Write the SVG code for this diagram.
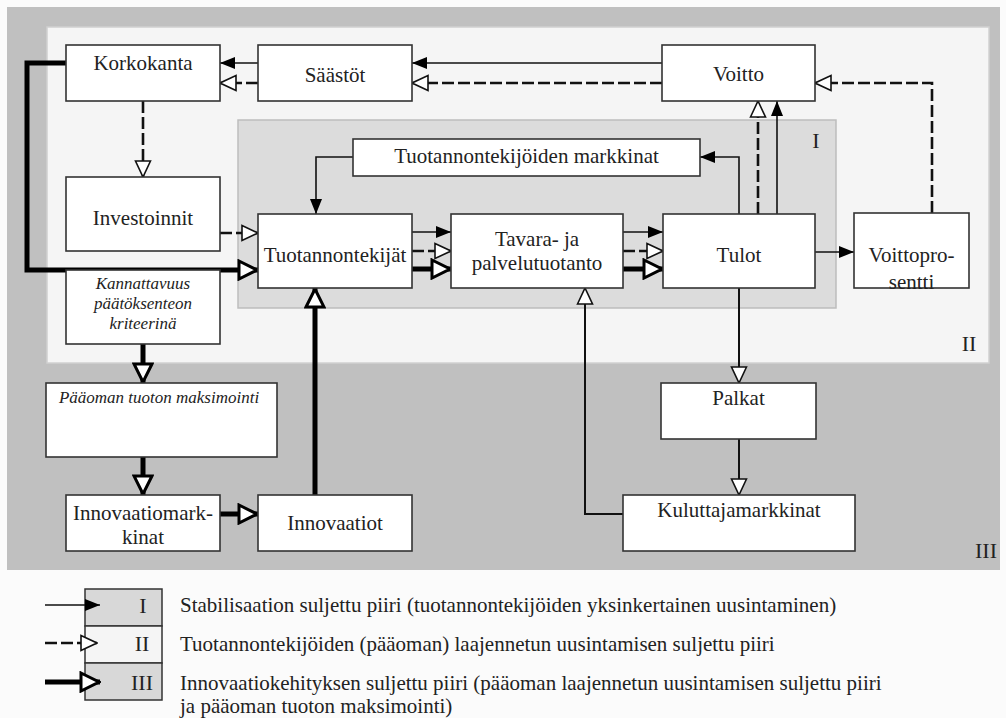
<svg xmlns="http://www.w3.org/2000/svg" width="1006" height="718" viewBox="0 0 1006 718">
<style>
.node rect{fill:#fff;stroke:#333;stroke-width:1.6}
text{font-family:"Liberation Serif","Times New Roman",serif;font-size:21px;fill:#222}
.c text,.node text{text-anchor:middle}
.it{font-style:italic;font-size:17px}
.s1{fill:none;stroke:#111;stroke-width:1.6}
.s2{fill:none;stroke:#111;stroke-width:2.6;stroke-dasharray:12,4}
.s3{fill:none;stroke:#000;stroke-width:5}
.sh{fill:none;stroke:#111;stroke-width:2}
.lbl{font-size:22px;text-anchor:middle}
</style>
<defs>
<marker id="aI" markerUnits="userSpaceOnUse" viewBox="0 0 15 12" refX="15" refY="6" markerWidth="15" markerHeight="12" orient="auto"><path d="M0,0 L15,6 L0,12 z" fill="#000"/></marker>
<marker id="aII" markerUnits="userSpaceOnUse" viewBox="0 0 18 18" refX="17" refY="9" markerWidth="18" markerHeight="18" orient="auto"><path d="M1,1.5 L17,9 L1,16.5 z" fill="#fff" stroke="#111" stroke-width="1.6"/></marker>
<marker id="aIII" markerUnits="userSpaceOnUse" viewBox="0 0 22 22" refX="21" refY="11" markerWidth="22" markerHeight="22" orient="auto"><path d="M2,2 L20,11 L2,20 z" fill="#fff" stroke="#000" stroke-width="3"/></marker>
</defs>
<rect x="0" y="0" width="1006" height="718" fill="#fbfbfb"/>
<g id="regions">
<rect x="7" y="7" width="993" height="563" fill="#c0c0c0"/>
<rect x="47" y="27" width="942" height="336" fill="#f5f5f5" stroke="#d0d0d0" stroke-width="1.5"/>
<rect x="238" y="120" width="598" height="188" fill="#dcdcdc" stroke="#bdbdbd" stroke-width="1.5"/>
<text class="lbl" x="816" y="148">I</text>
<text class="lbl" x="969" y="351">II</text>
<text class="lbl" x="986" y="558">III</text>
</g>
<g id="connectors">
<path class="s1" d="M662,63 L412,63" marker-end="url(#aI)"/>
<path class="s2" d="M662,83 L412,83" marker-end="url(#aII)"/>
<path class="s1" d="M258,63 L220,63" marker-end="url(#aI)"/>
<path class="s2" d="M258,83 L220,83" marker-end="url(#aII)"/>
<path class="s2" d="M143,101 L143,177" marker-end="url(#aII)"/>
<path class="s2" d="M220,233 L258,233" marker-end="url(#aII)"/>
<path class="s3" d="M66,63 L27,63 L27,270 L258,270" marker-end="url(#aIII)"/>
<path class="s1" d="M353,157 L316,157 L316,214" marker-end="url(#aI)"/>
<path class="s1" d="M739,214 L739,157 L700,157" marker-end="url(#aI)"/>
<path class="s2" d="M758,214 L758,101" marker-end="url(#aII)"/>
<path class="s1" d="M777,214 L777,101" marker-end="url(#aI)"/>
<path class="s2" d="M932,213 L932,83 L815,83" marker-end="url(#aII)"/>
<path class="s1" d="M815,252 L854,252" marker-end="url(#aI)"/>
<path class="s1" d="M412,232 L451,232" marker-end="url(#aI)"/>
<path class="s2" d="M412,251 L451,251" marker-end="url(#aII)"/>
<path class="s3" d="M412,269 L451,269" marker-end="url(#aIII)"/>
<path class="s1" d="M623,232 L663,232" marker-end="url(#aI)"/>
<path class="s2" d="M623,251 L663,251" marker-end="url(#aII)"/>
<path class="s3" d="M623,269 L663,269" marker-end="url(#aIII)"/>
<path class="sh" d="M623,514 L585,514 L585,288" marker-end="url(#aII)"/>
<path class="sh" d="M739,288 L739,383" marker-end="url(#aII)"/>
<path class="sh" d="M739,439 L739,495" marker-end="url(#aII)"/>
<path class="s3" d="M143,344 L143,383" marker-end="url(#aIII)"/>
<path class="s3" d="M143,457 L143,495" marker-end="url(#aIII)"/>
<path class="s3" d="M220,514 L258,514" marker-end="url(#aIII)"/>
<path class="s3" d="M315,495 L315,288" marker-end="url(#aIII)"/>
</g>
<g id="korkokanta" class="node"><rect x="66" y="45" width="154" height="56"/><text x="143" y="70">Korkokanta</text></g>
<g id="saastot" class="node"><rect x="258" y="45" width="154" height="56"/><text x="335" y="82">Säästöt</text></g>
<g id="voitto" class="node"><rect x="662" y="45" width="153" height="56"/><text x="738.5" y="81">Voitto</text></g>
<g id="investoinnit" class="node"><rect x="66" y="177" width="154" height="74"/><text x="143" y="225">Investoinnit</text></g>
<g id="tmarkkinat" class="node"><rect x="353" y="139" width="347" height="37"/><text x="526.5" y="163">Tuotannontekijöiden markkinat</text></g>
<g id="tuotannontekijat" class="node"><rect x="258" y="214" width="154" height="74"/><text x="335" y="262">Tuotannontekijät</text></g>
<g id="tavara" class="node"><rect x="451" y="214" width="172" height="74"/><text x="537" y="246">Tavara- ja</text><text x="537" y="270">palvelutuotanto</text></g>
<g id="tulot" class="node"><rect x="663" y="214" width="152" height="74"/><text x="739" y="262">Tulot</text></g>
<g id="voittoprosentti" class="node"><rect x="854" y="213" width="115" height="75"/><text x="911.5" y="262">Voittopro-</text><text x="911.5" y="289">sentti</text></g>
<g id="kannattavuus" class="node"><rect x="66" y="270" width="154" height="74"/><text class="it" x="143" y="289">Kannattavuus</text><text class="it" x="143" y="309">päätöksenteon</text><text class="it" x="143" y="329">kriteerinä</text></g>
<g id="paaoma" class="node"><rect x="46" y="383" width="231" height="74"/><text class="it" x="159" y="403">Pääoman tuoton maksimointi</text></g>
<g id="innovaatiomarkkinat" class="node"><rect x="66" y="495" width="154" height="56"/><text x="143" y="520">Innovaatiomark-</text><text x="143" y="544">kinat</text></g>
<g id="innovaatiot" class="node"><rect x="258" y="495" width="154" height="56"/><text x="335" y="530">Innovaatiot</text></g>
<g id="palkat" class="node"><rect x="661" y="383" width="155" height="56"/><text x="738.5" y="405">Palkat</text></g>
<g id="kuluttajamarkkinat" class="node"><rect x="623" y="495" width="232" height="56"/><text x="739" y="517">Kuluttajamarkkinat</text></g>
<g id="legend">
<rect x="85" y="589" width="77" height="37" fill="#d8d8d8" stroke="#333" stroke-width="1.5"/>
<rect x="85" y="626" width="77" height="37" fill="#f5f5f5" stroke="#333" stroke-width="1.5"/>
<rect x="85" y="663" width="77" height="37" fill="#d8d8d8" stroke="#333" stroke-width="1.5"/>
<path class="s1" d="M45,605 L100,605" marker-end="url(#aI)"/>
<path class="s2" d="M45,643 L97,643" marker-end="url(#aII)"/>
<path class="s3" d="M45,682 L100,682" marker-end="url(#aIII)"/>
<text class="lbl" x="143" y="613">I</text>
<text class="lbl" x="142" y="651">II</text>
<text class="lbl" x="142" y="690">III</text>
<text x="180" y="612">Stabilisaation suljettu piiri (tuotannontekijöiden yksinkertainen uusintaminen)</text>
<text x="180" y="651">Tuotannontekijöiden (pääoman) laajennetun uusintamisen suljettu  piiri</text>
<text x="180" y="690">Innovaatiokehityksen suljettu piiri (pääoman laajennetun uusintamisen suljettu piiri</text>
<text x="180" y="713">ja pääoman tuoton maksimointi)</text>
</g>
</svg>
